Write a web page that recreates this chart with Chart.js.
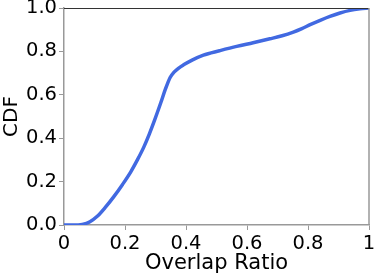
<!DOCTYPE html>
<html>
<head>
<meta charset="utf-8">
<script src="https://cdn.jsdelivr.net/npm/chart.js@4/dist/chart.umd.min.js"></script>
<style>
html,body{margin:0;padding:0;background:#fff;}
#wrap{width:374px;height:277px;position:relative;}
</style>
</head>
<body>
<div id="wrap"><canvas id="c" width="374" height="277"></canvas></div>
<script>
const overlapRatio = [0, 0.03, 0.06, 0.085, 0.109, 0.136, 0.164, 0.192, 0.219, 0.241, 0.262, 0.28, 0.297, 0.317, 0.333, 0.348, 0.36, 0.375, 0.392, 0.42, 0.457, 0.51, 0.566, 0.62, 0.675, 0.715, 0.752, 0.78, 0.807, 0.84, 0.872, 0.905, 0.938, 0.97, 1.0];
const cdfValues   = [0, 0,    0.003, 0.015, 0.040, 0.082, 0.132, 0.187, 0.245, 0.301, 0.360, 0.420, 0.483, 0.562, 0.628, 0.680, 0.703, 0.722, 0.738, 0.760, 0.783, 0.803, 0.823, 0.840, 0.858, 0.872, 0.889, 0.905, 0.923, 0.943, 0.961, 0.977, 0.989, 0.996, 1.0];
const xTickLabels = ['0', '0.2', '0.4', '0.6', '0.8', '1'];
const yTickLabels = ['0.0', '0.2', '0.4', '0.6', '0.8', '1.0'];
const xTitle = 'Overlap Ratio';
const yTitle = 'CDF';

const points = overlapRatio.map((x, i) => ({x: x, y: cdfValues[i]}));
const FONT = 'DejaVu Sans';

const framePlugin = {
  id: 'frame',
  afterDraw(chart) {
    const a = chart.chartArea, ctx = chart.ctx;
    ctx.save();
    ctx.lineWidth = 1;
    ctx.strokeStyle = '#333';
    ctx.beginPath(); ctx.moveTo(a.left, a.top + 0.5); ctx.lineTo(a.right, a.top + 0.5); ctx.stroke();
    ctx.strokeStyle = '#999';
    ctx.lineWidth = 1.5;
    ctx.beginPath(); ctx.moveTo(a.right, a.top); ctx.lineTo(a.right, a.bottom); ctx.stroke();
    ctx.restore();
  }
};

new Chart(document.getElementById('c'), {
  type: 'line',
  data: {
    datasets: [{
      data: points,
      borderColor: '#4169e1',
      borderWidth: 3.5,
      pointRadius: 0,
      fill: false,
      cubicInterpolationMode: 'monotone'
    }]
  },
  options: {
    responsive: false,
    animation: false,
    layout: {padding: {top: 8, right: 5, left: 0, bottom: 0}},
    plugins: {legend: {display: false}, tooltip: {enabled: false}},
    scales: {
      x: {
        type: 'linear', min: 0, max: 1,
        afterFit(s) { s.height = 52; s.paddingRight = 0; s.paddingLeft = 0; },
        afterBuildTicks(s) { s.ticks = xTickLabels.map((_, i) => ({value: i * 0.2})); },
        ticks: {
          callback: (v, i) => xTickLabels[i],
          font: {family: FONT, size: 19.5}, color: '#000', padding: 2, maxRotation: 0, autoSkip: false
        },
        grid: {drawOnChartArea: false, drawTicks: true, tickLength: 5, tickColor: '#999'},
        border: {color: '#999', width: 1.5},
        title: {display: true, text: xTitle, font: {family: FONT, size: 21}, color: '#000', padding: {top: 0, bottom: 1}}
      },
      y: {
        type: 'linear', min: 0, max: 1,
        afterFit(s) { s.width = 64; s.paddingTop = 0; s.paddingBottom = 0; },
        afterBuildTicks(s) { s.ticks = yTickLabels.map((_, i) => ({value: i * 0.2})); },
        ticks: {
          callback: (v, i) => yTickLabels[i],
          font: {family: FONT, size: 19.5}, color: '#000', padding: 2, autoSkip: false
        },
        grid: {drawOnChartArea: false, drawTicks: true, tickLength: 5, tickColor: '#999'},
        border: {color: '#999', width: 1.5},
        title: {display: true, text: yTitle, font: {family: FONT, size: 20}, color: '#000', padding: {top: 0, bottom: 0}}
      }
    }
  },
  plugins: [framePlugin]
});
</script>
</body>
</html>
